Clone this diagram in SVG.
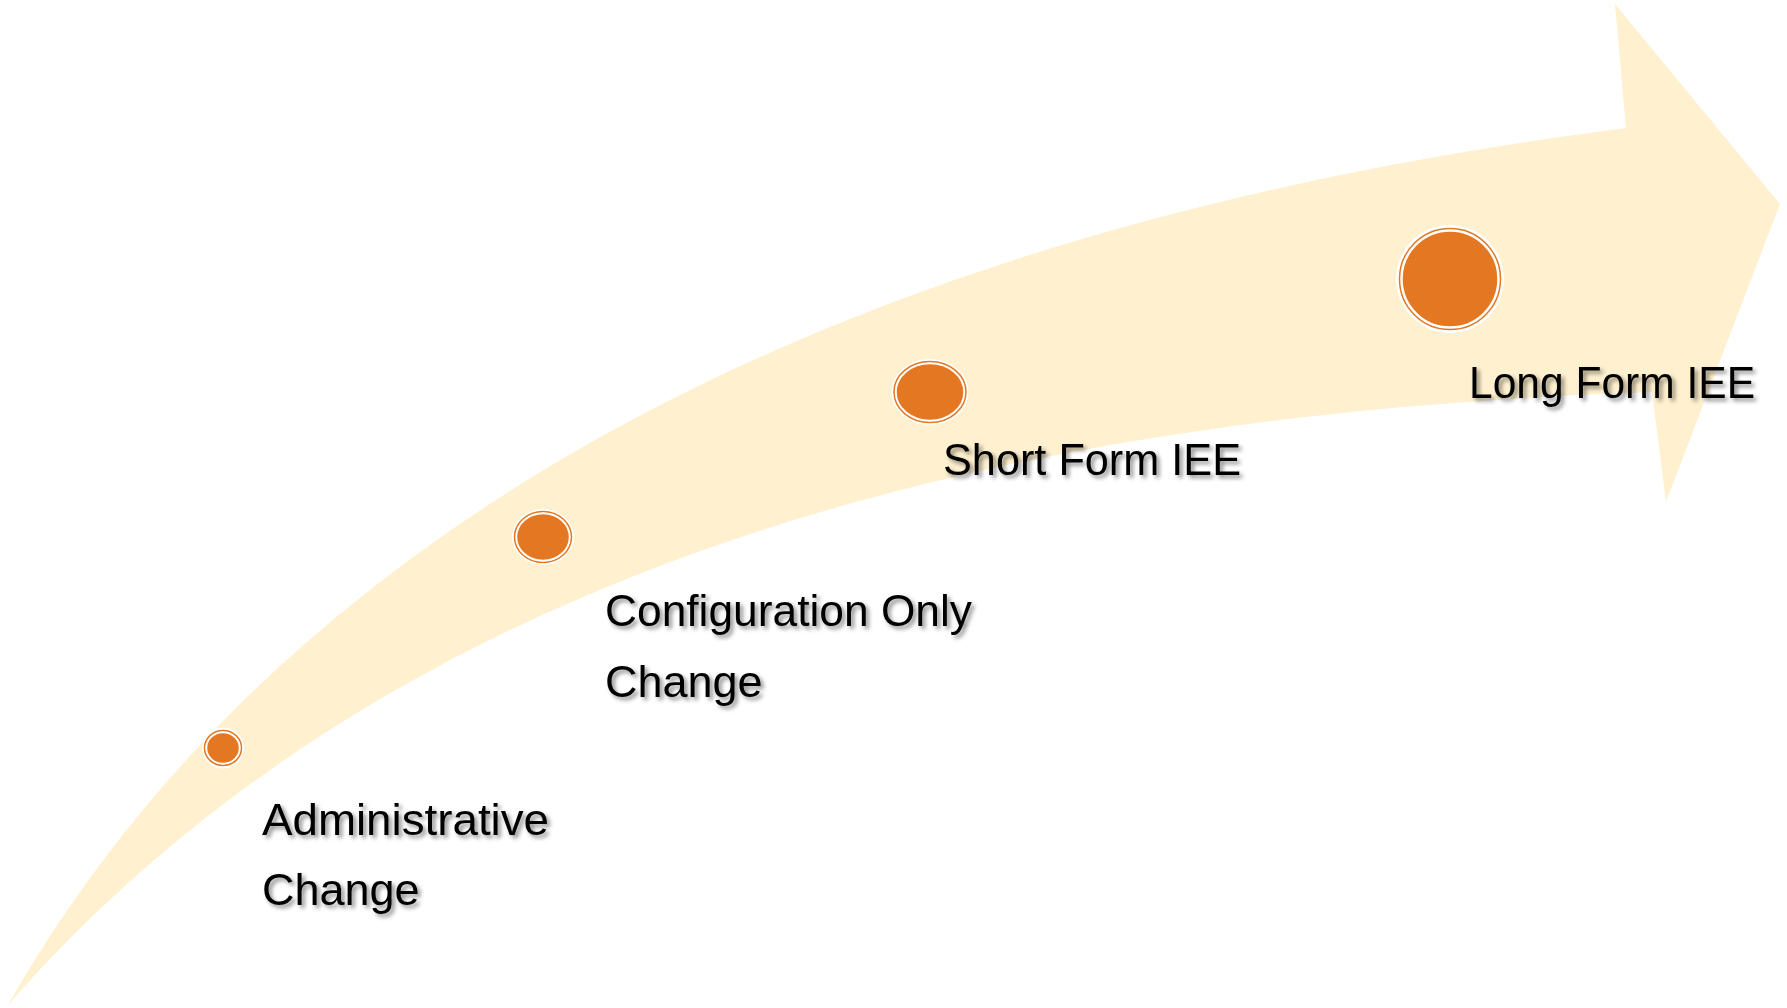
<svg xmlns="http://www.w3.org/2000/svg" width="1787" height="1008" viewBox="0 0 1787 1008">
  <style>
    .lbl { font-family: "Liberation Sans", Arial, sans-serif; font-size: 45px; fill: #000; filter: url(#shadow); }
    .dot { fill: #E47722; stroke: #fff; stroke-width: 1.5; }
    .ring { fill: none; stroke: #E47722; stroke-width: 1.5; }
    .halo { fill: #fff; }
  </style>
  <defs>
    <filter id="shadow" x="-10%" y="-30%" width="130%" height="180%">
      <feDropShadow dx="3" dy="3" stdDeviation="2" flood-color="#000" flood-opacity="0.45"/>
    </filter>
  </defs>
  <rect width="1787" height="1008" fill="#fff"/>
  <g id="arrow">
    <path d="M 8 1005 C 250 580, 750 240, 1626 128 L 1615 4 L 1780 204 L 1666 502 L 1652 392 C 1150 410, 450 500, 8 1005 Z" fill="#FFF1CF"/>
  </g>
  <g id="node-administrative">
    <ellipse class="halo" cx="223" cy="748" rx="21" ry="20.5"/>
    <ellipse class="ring" cx="223" cy="748" rx="18.5" ry="17.5"/>
    <ellipse class="dot" cx="223" cy="748" rx="16.5" ry="15.5"/>
    <text class="lbl" x="262" y="835" textLength="287" lengthAdjust="spacingAndGlyphs">Administrative</text>
    <text class="lbl" x="262" y="905">Change</text>
  </g>
  <g id="node-configuration">
    <ellipse class="halo" cx="543" cy="537" rx="31" ry="28"/>
    <ellipse class="ring" cx="543" cy="537" rx="28.5" ry="25.5"/>
    <ellipse class="dot" cx="543" cy="537" rx="26.5" ry="23.5"/>
    <text class="lbl" x="605" y="626" textLength="367" lengthAdjust="spacingAndGlyphs">Configuration Only</text>
    <text class="lbl" x="605" y="697">Change</text>
  </g>
  <g id="node-short-form">
    <ellipse class="halo" cx="930" cy="392" rx="38.5" ry="33"/>
    <ellipse class="ring" cx="930" cy="392" rx="36" ry="30.5"/>
    <ellipse class="dot" cx="930" cy="392" rx="34" ry="28.5"/>
    <text class="lbl" x="943" y="475" textLength="298" lengthAdjust="spacingAndGlyphs">Short Form IEE</text>
  </g>
  <g id="node-long-form">
    <circle class="halo" cx="1450" cy="279" r="54"/>
    <circle class="ring" cx="1450" cy="279" r="50.5"/>
    <circle class="dot" cx="1450" cy="279" r="48"/>
    <text class="lbl" x="1469" y="398" textLength="286" lengthAdjust="spacingAndGlyphs">Long Form IEE</text>
  </g>
</svg>
